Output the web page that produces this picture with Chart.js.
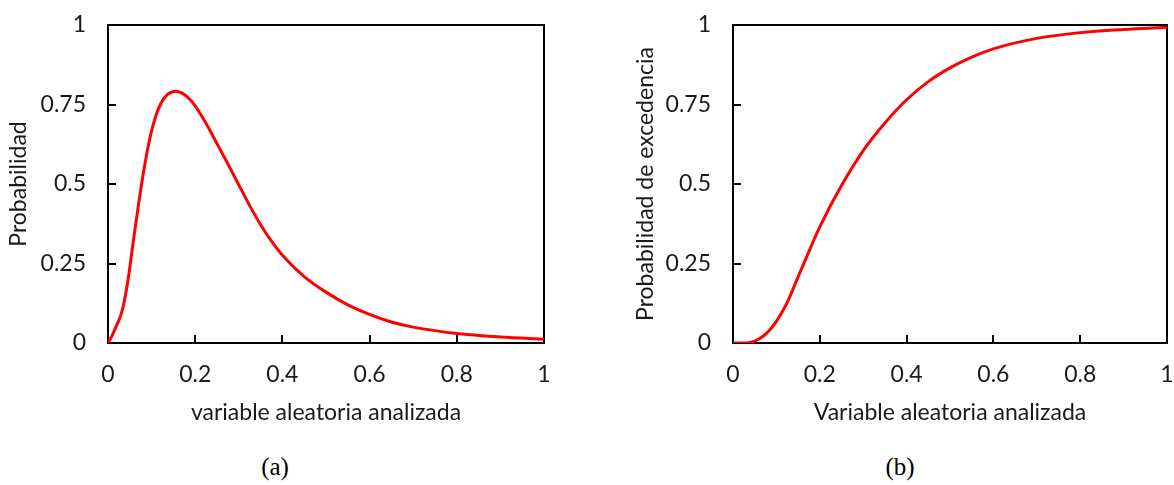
<!DOCTYPE html>
<html>
<head>
<meta charset="utf-8">
<script src="https://cdn.jsdelivr.net/npm/chart.js@4.4.1/dist/chart.umd.min.js"></script>
<style>
    html, body { margin: 0; padding: 0; background: #fff; }
    #wrap { position: relative; width: 1174px; height: 485px; overflow: hidden; }
    .panel { position: absolute; top: 0; width: 587px; height: 440px; }
    .caption {
        position: absolute; top: 453px; width: 120px; text-align: center;
        font: 25px "Liberation Serif", "Times New Roman", serif; color: #000;
    }
</style>
</head>
<body>
<div id="wrap">
    <div class="panel" style="left:0"><canvas id="chartA"></canvas></div>
    <div class="panel" style="left:587px"><canvas id="chartB"></canvas></div>
    <div class="caption" style="left:215px">(a)</div>
    <div class="caption" style="left:840px">(b)</div>
</div>
<script>
// (a) probability density
const pdfX = [0, 0.01, 0.02, 0.03, 0.035, 0.04, 0.045, 0.05, 0.06, 0.07, 0.08, 0.09, 0.1, 0.11, 0.12, 0.13, 0.14, 0.155,
              0.17, 0.18, 0.2, 0.225, 0.25, 0.275, 0.3, 0.325, 0.35, 0.375, 0.4, 0.45, 0.5, 0.55, 0.6, 0.65, 0.7, 0.8, 0.9, 1];
const pdfY = [0, 0.025, 0.056, 0.09, 0.115, 0.15, 0.19, 0.237, 0.34, 0.435, 0.525, 0.603, 0.667, 0.715, 0.75, 0.772, 0.785, 0.792,
              0.786, 0.776, 0.746, 0.69, 0.627, 0.563, 0.497, 0.432, 0.372, 0.32, 0.276, 0.209, 0.16, 0.12, 0.09, 0.066, 0.05, 0.03, 0.019, 0.012];

// (b) cumulative curve
const cdfX = [0, 0.03, 0.05, 0.07, 0.085, 0.1, 0.125, 0.15, 0.175, 0.2, 0.25, 0.3, 0.35, 0.4, 0.45, 0.5,
              0.55, 0.6, 0.7, 0.8, 0.9, 1];
const cdfY = [0, 0, 0.006, 0.022, 0.042, 0.068, 0.128, 0.208, 0.288, 0.365, 0.495, 0.605, 0.692, 0.765, 0.822, 0.865,
              0.899, 0.925, 0.958, 0.976, 0.986, 0.993];

const xTicks = [0, 0.2, 0.4, 0.6, 0.8, 1];
const yTicks = [0, 0.25, 0.5, 0.75, 1];

const TEXT = '#1a1a1a';
const FONT = { family: 'Lato, "Open Sans", sans-serif', size: 23 };

// box around the plot area plus short inward tick marks
const frameTicks = {
    id: 'frameTicks',
    beforeDatasetsDraw(chart) {
        const { ctx, chartArea: a, scales: { x, y } } = chart;
        ctx.save();
        ctx.strokeStyle = '#000';
        ctx.lineWidth = 2;
        ctx.strokeRect(a.left, a.top, a.right - a.left, a.bottom - a.top);
        ctx.beginPath();
        x.ticks.forEach(t => {
            const px = Math.round(x.getPixelForValue(t.value));
            ctx.moveTo(px, a.bottom);
            ctx.lineTo(px, a.bottom - 8);
        });
        y.ticks.forEach(t => {
            const py = Math.round(y.getPixelForValue(t.value));
            ctx.moveTo(a.left, py);
            ctx.lineTo(a.left + 8, py);
        });
        ctx.stroke();
        ctx.restore();
    }
};

function makeChart(canvasId, xs, ys, xTitle, yTitle, padLeft, yWidth, padRight) {
    const ctx = document.getElementById(canvasId);
    return new Chart(ctx, {
        type: 'line',
        plugins: [frameTicks],
        data: {
            datasets: [{
                data: xs.map((v, i) => ({ x: v, y: ys[i] })),
                borderColor: '#ff0000',
                borderWidth: 3,
                pointRadius: 0,
                cubicInterpolationMode: 'monotone',
                fill: false
            }]
        },
        options: {
            responsive: true,
            maintainAspectRatio: false,
            animation: false,
            layout: { padding: { top: 25, left: padLeft, right: padRight, bottom: 0 } },
            plugins: {
                legend: { display: false },
                tooltip: { enabled: false }
            },
            scales: {
                x: {
                    type: 'linear',
                    min: 0,
                    max: 1,
                    afterBuildTicks: s => { s.ticks = xTicks.map(v => ({ value: v })); },
                    afterFit: s => { s.height = 97; s.paddingLeft = 0; s.paddingRight = 0; },
                    grid: { display: false, drawTicks: false },
                    border: { display: false },
                    ticks: { color: TEXT, font: FONT, padding: 18, maxRotation: 0, callback: v => String(v) },
                    title: { display: true, text: xTitle, color: TEXT, font: FONT, padding: { top: 0, bottom: 14 } }
                },
                y: {
                    min: 0,
                    max: 1,
                    afterBuildTicks: s => { s.ticks = yTicks.map(v => ({ value: v })); },
                    afterFit: s => { s.width = yWidth; s.paddingTop = 0; s.paddingBottom = 0; },
                    grid: { display: false, drawTicks: false },
                    border: { display: false },
                    ticks: { color: TEXT, font: FONT, padding: 22, callback: v => String(v) },
                    title: { display: true, text: yTitle, color: TEXT, font: FONT, padding: { top: 5, bottom: 0 } }
                }
            }
        }
    });
}

makeChart('chartA', pdfX, pdfY, 'variable aleatoria analizada', 'Probabilidad', 0, 108, 43);
makeChart('chartB', cdfX, cdfY, 'Variable aleatoria analizada', 'Probabilidad de excedencia', 40, 106, 7);
</script>
</body>
</html>
